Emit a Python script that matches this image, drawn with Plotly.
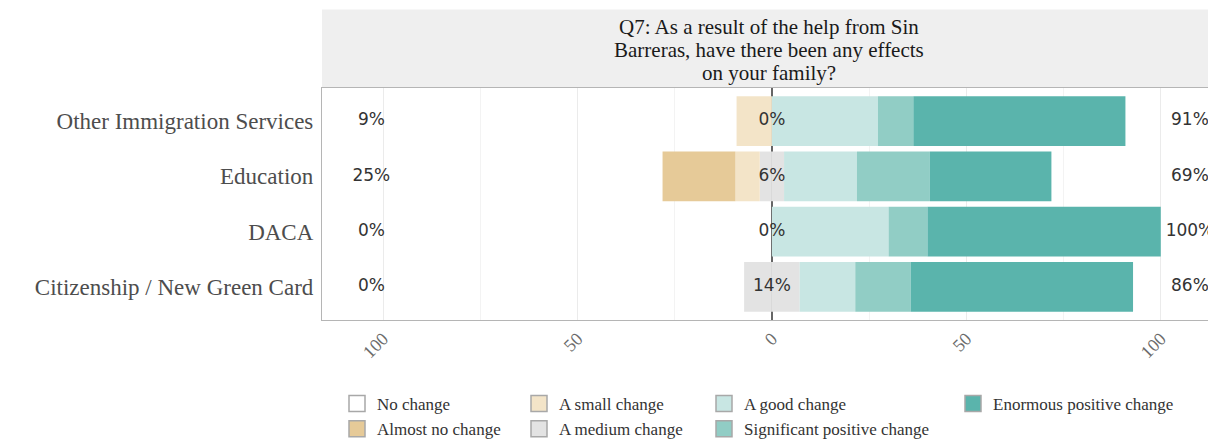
import plotly.graph_objects as go

# ---------------- data ----------------
categories = ["Citizenship / New Green Card", "DACA", "Education", "Other Immigration Services"]
levels = ["No change", "Almost no change", "A small change", "A medium change",
          "A good change", "Significant positive change", "Enormous positive change"]
level_colors = ["#FFFFFF", "#E6CA98", "#F3E4C8", "#E3E3E3", "#C8E6E3", "#91CDC5", "#5AB4AC"]

no_change = [0.0, 0.0, 0.0, 0.0]
almost_no_change = [0.0, 0.0, 18.75, 0.0]
small_change = [0.0, 0.0, 6.25, 9.09]
medium_change = [14.29, 0.0, 6.25, 0.0]
good_change = [14.29, 30.0, 18.75, 27.27]
significant_change = [14.29, 10.0, 18.75, 9.09]
enormous_change = [57.14, 60.0, 31.25, 54.55]

tick_vals = [-100, -50, 0, 50, 100]
tick_text = ["100", "50", "0", "50", "100"]

title_lines = ["Q7: As a result of the help from Sin",
               "Barreras, have there been any effects",
               "on your family?"]

# summary percentages (low / neutral / high)
low_pct = [a + b + c for a, b, c in zip(no_change, almost_no_change, small_change)]
mid_pct = list(medium_change)
high_pct = [a + b + c for a, b, c in zip(good_change, significant_change, enormous_change)]

LEFT_X, MID_X, RIGHT_X = -103, 0, 107.5

SERIF = "Liberation Serif"
SANS = "DejaVu Sans"

fig = go.Figure()


def add_bar(vals, color, sign):
    fig.add_trace(go.Bar(
        y=categories, x=[sign * v for v in vals], orientation="h",
        marker=dict(color=color, line=dict(width=0)), width=0.9,
        showlegend=False, hoverinfo="skip"))


# stacking order: closest to zero first on each side
half_mid = [v / 2 for v in medium_change]
add_bar(half_mid, level_colors[3], -1)
add_bar(half_mid, level_colors[3], 1)
add_bar(small_change, level_colors[2], -1)
add_bar(good_change, level_colors[4], 1)
add_bar(almost_no_change, level_colors[1], -1)
add_bar(significant_change, level_colors[5], 1)
add_bar(no_change, level_colors[0], -1)
add_bar(enormous_change, level_colors[6], 1)

# percentage labels
for xpos, vals in ((LEFT_X, low_pct), (MID_X, mid_pct), (RIGHT_X, high_pct)):
    fig.add_trace(go.Scatter(
        x=[xpos] * len(categories), y=categories, mode="text",
        text=[f"{round(v)}%" for v in vals], cliponaxis=False,
        textfont=dict(family=SANS, size=17, color="#333333"),
        showlegend=False, hoverinfo="skip"))

# legend entries (column-wise, 2 rows)
legend_ids = ["legend", "legend", "legend2", "legend2", "legend3", "legend3", "legend4"]
for lvl, col, lg in zip(levels, level_colors, legend_ids):
    fig.add_trace(go.Scatter(
        x=[None], y=[None], mode="markers", name=lvl, legend=lg, legendgroup=lvl,
        marker=dict(symbol="square", size=16, color=col,
                    line=dict(color="#A8A8A8", width=1.5))))

# the page body has an 8px margin: work in page pixels and subtract it
OFF = 8
W, H = 1216 - OFF, 440 - OFF
PLOT_L, PLOT_R, PLOT_T, PLOT_B = 322 - OFF, 1216 - OFF, 88 - OFF, 320 - OFF
pw = PLOT_R - PLOT_L
ph = PLOT_B - PLOT_T


def px_x(px):
    return (px - OFF - PLOT_L) / pw


def px_y(py):
    return (PLOT_B - (py - OFF)) / ph


legend_common = dict(orientation="v", xanchor="left", yanchor="top",
                     bgcolor="rgba(0,0,0,0)", borderwidth=0, tracegroupgap=0,
                     font=dict(family=SERIF, size=17, color="#333333"))
leg_y = px_y(386)

title_annotations = [
    dict(xref="paper", yref="paper", x=0.5, y=px_y(yy), xanchor="center",
         yanchor="middle", showarrow=False, text=line,
         font=dict(family=SERIF, size=21, color="#1A1A1A"))
    for line, yy in zip(title_lines, (27, 50, 73))
]

fig.update_layout(
    width=W, height=H,
    margin=dict(l=PLOT_L, r=W - PLOT_R, t=PLOT_T, b=H - PLOT_B, autoexpand=False),
    plot_bgcolor="white", paper_bgcolor="white",
    barmode="relative", bargap=0.1,
    xaxis=dict(range=[-115.7, 114.2], tickvals=tick_vals, ticktext=tick_text,
               tickangle=-45, tickfont=dict(family=SERIF, size=18, color="#6b6b6b"),
               showgrid=True, gridcolor="#EBEBEB", gridwidth=1,
               minor=dict(dtick=25, tick0=0, showgrid=True, gridcolor="#F3F3F3", gridwidth=1),
               zeroline=True, zerolinecolor="#666666", zerolinewidth=1.5,
               showline=True, linecolor="#B5B5B5", linewidth=1.2, mirror=True,
               ticks="", fixedrange=True),
    yaxis=dict(categoryorder="array", categoryarray=categories, range=[-0.6, 3.6],
               showgrid=False, zeroline=False,
               showline=True, linecolor="#B5B5B5", linewidth=1.2, mirror=True,
               ticks="", ticklabelstandoff=3,
               tickfont=dict(family=SERIF, size=23, color="#4D4D4D")),
    legend=dict(x=px_x(337), y=leg_y, **legend_common),
    legend2=dict(x=px_x(519), y=leg_y, **legend_common),
    legend3=dict(x=px_x(704), y=leg_y, **legend_common),
    legend4=dict(x=px_x(953), y=leg_y, **legend_common),
    shapes=[dict(type="rect", xref="paper", yref="paper", x0=0, x1=1,
                 y0=1, y1=px_y(9.5), fillcolor="#EFEFEF", line=dict(width=0), layer="below")],
    annotations=title_annotations,
)

fig.write_html("out.html")
